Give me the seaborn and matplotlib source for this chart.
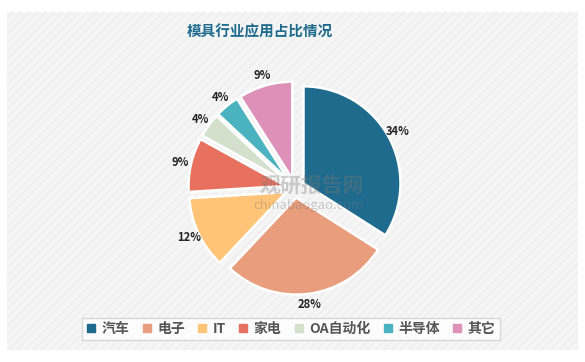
import matplotlib
matplotlib.use("Agg")
import matplotlib.pyplot as plt
import seaborn as sns
from matplotlib.patches import Rectangle
from matplotlib.lines import Line2D

categories = ["汽车", "电子", "IT", "家电", "OA自动化", "半导体", "其它"]
values = [34, 28, 12, 9, 4, 4, 9]
colors = ["#1f6b8e", "#e89d7c", "#ffc478", "#e8705f", "#d3e0cc", "#4bb3c0", "#dd90b8"]
title = "模具行业应用占比情况"

sns.set_theme(style="white")
plt.rcParams['font.family'] = ['Noto Sans CJK SC', 'DejaVu Sans']
plt.rcParams['hatch.color'] = '#ffffff'

fig = plt.figure(figsize=(5.85, 3.62), dpi=100)
fig.patch.set_facecolor("white")
# card background
card = Rectangle((7/585, 12/362), 571/585, 338/362, transform=fig.transFigure,
                 facecolor="#f5f5f5", edgecolor="#eeeeee", hatch="////", linewidth=0, zorder=-5)
fig.patches.append(card)

fig.text(260/585, 1 - 31/362, title, ha="center", va="center", fontsize=10.5,
         fontweight="bold", color="#1f6b8e")

cx, cy, half = 295, 362 - 188, 125
ax = fig.add_axes([(cx - half)/585, (cy - half)/362, 2*half/585, 2*half/362], zorder=2)
ax.set_facecolor("none")
r = 97 / half
wedges, texts = ax.pie(values, colors=colors, startangle=90, counterclock=False,
                       radius=r, explode=[0.1*r]*len(values),
                       labels=[f"{v}%" for v in values], labeldistance=1.11,
                       wedgeprops=dict(edgecolor="white", linewidth=1.8),
                       textprops=dict(fontsize=8, fontweight="bold", color="#222222"))
for t in texts:
    t.set_ha("center")
    t.set_va("center")
ax.set_xlim(-1, 1)
ax.set_ylim(-1, 1)
ax.set_aspect("equal")
ax.axis("off")

# watermark
fig.text(312/585, 1 - 185/362, "观研报告网", ha="center", va="center", fontsize=15,
         fontweight="bold", color="#777777", alpha=0.35, zorder=5)
fig.text(309/585, 1 - 206/362, "chinabaogao.com", ha="center", va="center", fontsize=9.5,
         color="#777777", alpha=0.35, zorder=5)

handles = [Line2D([0], [0], marker="s", linestyle="", markersize=5.5,
                  markerfacecolor=c, markeredgecolor=c) for c in colors]
leg = fig.legend(handles, categories, loc="center", bbox_to_anchor=(291/585, 1 - 329/362),
                 ncol=7, frameon=True, fancybox=False, fontsize=10, handlelength=0.7,
                 handletextpad=0.4, columnspacing=0.9, borderpad=0.3)
leg.get_frame().set_edgecolor("#d0d0d0")
leg.get_frame().set_linewidth(1.0)
leg.get_frame().set_facecolor("white")
for t in leg.get_texts():
    t.set_color("#555555")
    t.set_fontweight("bold")

fig.savefig("out.png", dpi=100, facecolor=fig.get_facecolor())
